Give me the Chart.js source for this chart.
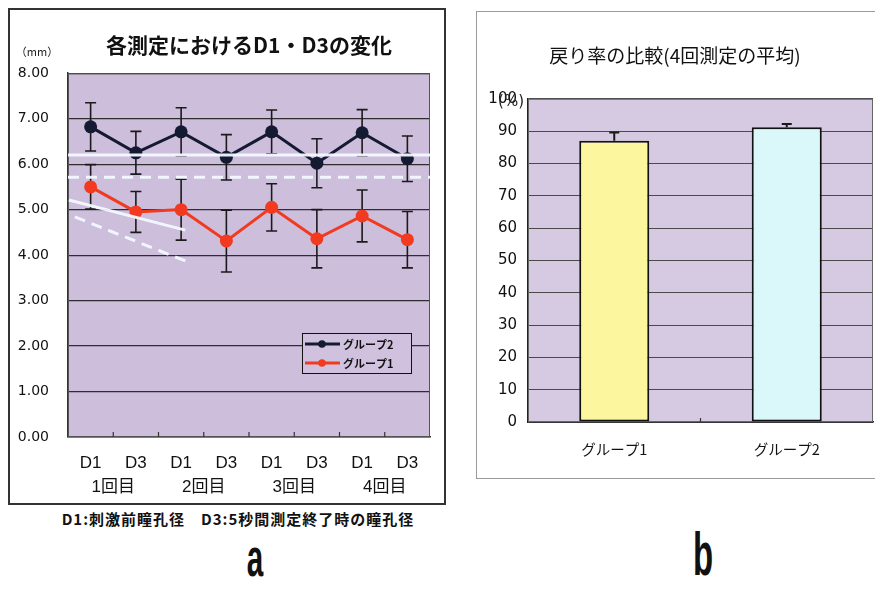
<!DOCTYPE html>
<html>
<head>
<meta charset="utf-8">
<script src="https://cdn.jsdelivr.net/npm/chart.js@4.4.1/dist/chart.umd.min.js"></script>
<style>
  html, body { margin: 0; padding: 0; background: #fff; width: 875px; height: 603px; overflow: hidden; position: relative; }
  .frame { position: absolute; box-sizing: border-box; background: #fff; }
  #frameA { left: 8px; top: 8px; width: 438px; height: 497px; border: 2px solid #333; }
  #frameB { left: 476px; top: 11px; width: 420px; height: 468px; border: 1px solid #9a9a9a; }
  canvas { display: block; }
  .note { position: absolute; left: 38px; width: 400px; top: 508px; text-align: center;
          font-family: "Noto Sans CJK JP"; font-weight: bold; font-size: 15px; letter-spacing: 1px; color: #111; white-space: nowrap; }
  .tag { position: absolute; font-family: "Liberation Sans"; font-weight: bold; color: #111; text-align: center; line-height: 1; }
  #tagA { left: 225px; width: 60px; top: 530px; font-size: 54px; transform: scaleX(0.55); }
  #tagB { left: 673px; width: 60px; top: 524px; font-size: 61px; transform: scaleX(0.54); }
</style>
</head>
<body>
<div class="frame" id="frameA"><canvas id="chartA" width="434" height="493"></canvas></div>
<div class="frame" id="frameB"><canvas id="chartB" width="408" height="466"></canvas></div>
<div class="note">D1:刺激前瞳孔径　D3:5秒間測定終了時の瞳孔径</div>
<div class="tag" id="tagA">a</div>
<div class="tag" id="tagB">b</div>

<script>
// ---- pupil diameter per measurement (mm) ----
const phaseLabels   = ['D1', 'D3', 'D1', 'D3', 'D1', 'D3', 'D1', 'D3'];
const sessionLabels = ['1回目', '2回目', '3回目', '4回目'];
const group2Mean = [6.82, 6.25, 6.71, 6.15, 6.71, 6.02, 6.69, 6.12];
const group2Sd   = [0.53, 0.47, 0.53, 0.50, 0.48, 0.54, 0.51, 0.50];
const group1Mean = [5.50, 4.95, 5.00, 4.31, 5.05, 4.36, 4.86, 4.34];
const group1Sd   = [0.49, 0.45, 0.67, 0.68, 0.52, 0.64, 0.57, 0.62];

// white guide lines, x in category-index units
const guideLevelSolid = [{ x: -0.5, y: 6.20 }, { x: 7.5, y: 6.20 }];
const guideLevelDash  = [{ x: -0.5, y: 5.71 }, { x: 7.5, y: 5.71 }];
const guideSlopeSolid = [{ x: -0.48, y: 5.21 }, { x: 2.09, y: 4.55 }];
const guideSlopeDash  = [{ x: -0.35, y: 4.84 }, { x: 2.12, y: 3.86 }];

// ---- recovery rate, mean of 4 measurements (%) ----
const barGroups    = ['グループ1', 'グループ2'];
const recoveryMean = [87.0, 91.2];
const recoverySd   = [2.6, 1.0];

const CJK = '"Noto Sans CJK JP"';

// plot background, frame and small inward ticks on the category axis
const plotFrame = {
  id: 'plotFrame',
  beforeDraw(chart, args, o) {
    const { ctx, chartArea: a } = chart;
    ctx.save();
    ctx.fillStyle = o.fill;
    ctx.fillRect(a.left, a.top, a.width, a.height);
    ctx.restore();
  },
  beforeDatasetsDraw(chart, args, o) {
    const { ctx, chartArea: a } = chart;
    const xs = chart.scales.x;
    ctx.save();
    ctx.strokeStyle = o.stroke;
    ctx.lineWidth = 1;
    ctx.strokeRect(a.left + 0.5, a.top + 0.5, a.width - 1, a.height - 1);
    ctx.strokeStyle = '#333';
    ctx.lineWidth = 1.2;
    ctx.beginPath();
    for (let i = 1; i < chart.data.labels.length; i++) {
      const x = (xs.getPixelForValue(i - 1) + xs.getPixelForValue(i)) / 2;
      ctx.moveTo(x, a.bottom);
      ctx.lineTo(x, a.bottom - o.tick);
    }
    ctx.stroke();
    ctx.restore();
  }
};

// error bars from each dataset's "errors" list
const errorBars = {
  id: 'errorBars',
  beforeDatasetsDraw(chart) {
    const ctx = chart.ctx, ys = chart.scales.y;
    chart.data.datasets.forEach((ds, di) => {
      if (!ds.errors) return;
      const meta = chart.getDatasetMeta(di);
      ctx.save();
      ctx.strokeStyle = ds.errorColor;
      ctx.lineWidth = ds.errorWidth;
      ctx.beginPath();
      meta.data.forEach((el, i) => {
        const v = ds.data[i], e = ds.errors[i], cap = ds.errorCap;
        const x = el.x;
        const yTop = ys.getPixelForValue(v + e);
        const yBot = ds.errorUpOnly ? ys.getPixelForValue(v) : ys.getPixelForValue(v - e);
        ctx.moveTo(x, yTop); ctx.lineTo(x, yBot);
        ctx.moveTo(x - cap, yTop); ctx.lineTo(x + cap, yTop);
        if (!ds.errorUpOnly) { ctx.moveTo(x - cap, yBot); ctx.lineTo(x + cap, yBot); }
      });
      ctx.stroke();
      ctx.restore();
    });
  }
};

// boxed legend inside the plot area, lower right
const insetLegend = {
  id: 'insetLegend',
  afterDraw(chart, args, o) {
    if (!o.show) return;
    const { ctx, chartArea: a } = chart;
    const w = 109, h = 40;
    const left = a.right - 19 - w, top = a.bottom - 64 - h;
    ctx.save();
    ctx.fillStyle = o.fill;
    ctx.fillRect(left, top, w, h);
    ctx.strokeStyle = '#111';
    ctx.lineWidth = 1;
    ctx.strokeRect(left + 0.5, top + 0.5, w, h);
    const items = chart.data.datasets.filter(d => d.inLegend);
    items.forEach((d, i) => {
      const cy = top + 11 + i * 19;
      ctx.strokeStyle = d.borderColor;
      ctx.lineWidth = 3;
      ctx.beginPath();
      ctx.moveTo(left + 3, cy); ctx.lineTo(left + 38, cy);
      ctx.stroke();
      ctx.fillStyle = d.backgroundColor;
      ctx.beginPath();
      ctx.arc(left + 20, cy, 3.8, 0, Math.PI * 2);
      ctx.fill();
      ctx.fillStyle = '#111';
      ctx.font = 'bold 11px ' + CJK;
      ctx.textBaseline = 'middle';
      ctx.textAlign = 'left';
      ctx.fillText(d.label, left + 41, cy + 1);
    });
    ctx.restore();
  }
};

// unit caption next to the value axis
const unitLabel = {
  id: 'unitLabel',
  afterDraw(chart, args, o) {
    if (!o.text) return;
    const { ctx, chartArea: a } = chart;
    ctx.save();
    ctx.fillStyle = '#222';
    ctx.font = o.font;
    ctx.textAlign = o.align;
    ctx.textBaseline = 'middle';
    ctx.fillText(o.text, a.left + o.dx, a.top + o.dy);
    ctx.restore();
  }
};

Chart.register(plotFrame, errorBars, insetLegend, unitLabel);

new Chart(document.getElementById('chartA'), {
  type: 'line',
  data: {
    labels: phaseLabels,
    datasets: [
      { label: 'guide', data: guideLevelSolid, xAxisID: 'xl', order: 0,
        borderColor: 'rgba(242,248,255,0.95)', borderWidth: 3, pointRadius: 0 },
      { label: 'guide', data: guideLevelDash, xAxisID: 'xl', order: 0,
        borderColor: 'rgba(242,248,255,0.95)', borderWidth: 3, borderDash: [11, 7], pointRadius: 0 },
      { label: 'guide', data: guideSlopeSolid, xAxisID: 'xl', order: 0,
        borderColor: 'rgba(242,248,255,0.95)', borderWidth: 3, pointRadius: 0 },
      { label: 'guide', data: guideSlopeDash, xAxisID: 'xl', order: 0,
        borderColor: 'rgba(242,248,255,0.95)', borderWidth: 3, borderDash: [11, 7], pointRadius: 0 },
      { label: 'グループ2', data: group2Mean, errors: group2Sd, inLegend: true, order: 1,
        errorColor: '#1a1a1a', errorWidth: 1.6, errorCap: 5.5,
        borderColor: '#151a33', backgroundColor: '#151a33', borderWidth: 3,
        pointRadius: 6.5, pointBorderWidth: 0, tension: 0 },
      { label: 'グループ1', data: group1Mean, errors: group1Sd, inLegend: true, order: 2,
        errorColor: '#1a1a1a', errorWidth: 1.6, errorCap: 5.5,
        borderColor: '#f23a20', backgroundColor: '#f23a20', borderWidth: 3,
        pointRadius: 6.5, pointBorderWidth: 0, tension: 0 }
    ]
  },
  options: {
    responsive: false,
    animation: false,
    events: [],
    layout: { padding: { left: 0, right: 14, top: 0, bottom: 0 } },
    scales: {
      x: {
        type: 'category', offset: true,
        grid: { display: false, drawTicks: false },
        border: { display: true, color: '#333', width: 1.5 },
        ticks: { font: { family: '"Liberation Sans"', size: 17 }, color: '#111', padding: 16 },
        afterFit(s) { s.height = 38; }
      },
      x2: {
        type: 'category', position: 'bottom', offset: true, labels: sessionLabels,
        grid: { display: false, drawTicks: false },
        border: { display: false },
        ticks: { font: { family: '"Liberation Sans", ' + CJK, size: 17 }, color: '#111', padding: 2 },
        afterFit(s) { s.height = 28; }
      },
      xl: { type: 'linear', display: false, min: -0.5, max: 7.5 },
      y: {
        min: 0, max: 8,
        ticks: { stepSize: 1, callback: v => v.toFixed(2),
                 font: { family: '"DejaVu Sans"', size: 14 }, color: '#111', padding: 19 },
        grid: { color: '#2e2e2e', lineWidth: 1.2, drawTicks: false },
        border: { display: true, color: '#333', width: 1.5 },
        afterFit(s) { s.width = 58; }
      }
    },
    plugins: {
      legend: { display: false },
      tooltip: { enabled: false },
      title: {
        display: true, fullSize: false,
        text: '各測定におけるD1・D3の変化',
        font: { family: CJK, size: 21, weight: 'bold' }, color: '#111',
        padding: { top: 22, bottom: 16 }
      },
      plotFrame: { fill: '#cdbedc', stroke: '#555', tick: 5 },
      insetLegend: { show: true, fill: '#d0c2de' },
      unitLabel: { text: '（mm）', font: '11px ' + CJK, align: 'center', dx: -31, dy: -21 }
    }
  }
});

new Chart(document.getElementById('chartB'), {
  type: 'bar',
  data: {
    labels: barGroups,
    datasets: [{
      label: '戻り率',
      data: recoveryMean,
      errors: recoverySd, errorUpOnly: true,
      errorColor: '#1a1a1a', errorWidth: 2, errorCap: 5,
      backgroundColor: ['#fcf69e', '#daf7f9'],
      borderColor: '#121212', borderWidth: 2, borderSkipped: false,
      barPercentage: 0.406, categoryPercentage: 1
    }]
  },
  options: {
    responsive: false,
    animation: false,
    events: [],
    layout: { padding: { left: 0, right: 12, top: 0, bottom: 0 } },
    scales: {
      x: {
        grid: { display: false, drawTicks: false },
        border: { display: true, color: '#222', width: 1.5 },
        ticks: { font: { family: CJK, size: 14.5 }, color: '#111', padding: 19 },
        afterFit(s) { s.height = 56; }
      },
      y: {
        min: 0, max: 100,
        ticks: { stepSize: 10, font: { family: '"DejaVu Sans"', size: 15 }, color: '#111', padding: 11 },
        grid: { color: '#4a4a4a', lineWidth: 1, drawTicks: false },
        border: { display: true, color: '#222', width: 1.5 },
        afterFit(s) { s.width = 51; }
      }
    },
    plugins: {
      legend: { display: false },
      tooltip: { enabled: false },
      title: {
        display: true,
        text: '戻り率の比較(4回測定の平均)',
        font: { family: CJK, size: 19, weight: 'normal' }, color: '#111',
        padding: { top: 32, bottom: 32 }
      },
      plotFrame: { fill: '#d6cae3', stroke: '#666', tick: 4 },
      insetLegend: { show: false },
      unitLabel: { text: '(%)', font: '15px "DejaVu Sans"', align: 'right', dx: -4, dy: 3 }
    }
  }
});
</script>
</body>
</html>
